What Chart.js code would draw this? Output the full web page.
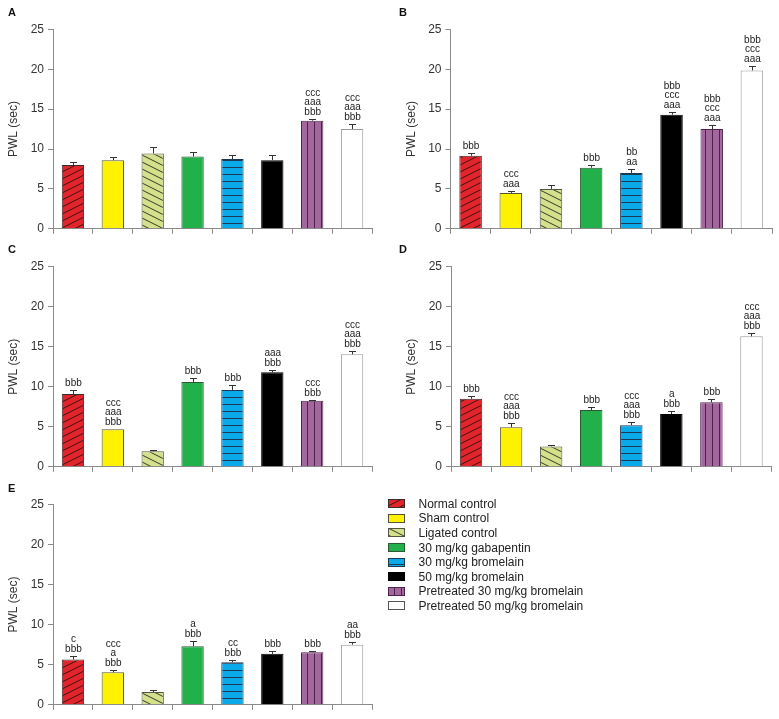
<!DOCTYPE html>
<html><head><meta charset="utf-8">
<script src="https://cdn.jsdelivr.net/npm/chart.js@4.4.1/dist/chart.umd.min.js"></script>
<style>
body{margin:0;background:#fff;width:779px;height:719px;overflow:hidden;position:relative;font-family:"Liberation Sans",Arial,sans-serif;}
.panel{position:absolute;}
.letter{position:absolute;font:bold 11px "Liberation Sans",Arial,sans-serif;line-height:11px;color:#111;}
#legend{position:absolute;left:388px;top:496.5px;}
.row{height:14.6px;display:flex;align-items:center;font-size:12px;color:#222;white-space:nowrap;}
.row canvas{margin-right:13.5px;display:block;}
</style></head><body>
<div id="root"></div>
<div id="legend"></div>
<script>
// ---- data ----
const groups = ['Normal control','Sham control','Ligated control','30 mg/kg gabapentin','30 mg/kg bromelain','50 mg/kg bromelain','Pretreated 30 mg/kg bromelain','Pretreated 50 mg/kg bromelain'];
const yTicks = [0,5,10,15,20,25];
const yTitle = 'PWL (sec)';
const panelNames = ['A','B','C','D','E'];

const meanA = [8.0, 8.6, 9.45, 9.05, 8.75, 8.6, 13.55, 12.5];
const semA  = [0.35, 0.45, 0.75, 0.6, 0.55, 0.7, 0.2, 0.6];
const sigA  = [[],[],[],[],[],[],['ccc','aaa','bbb'],['ccc','aaa','bbb']];

const meanB = [9.15, 4.5, 5.0, 7.65, 7.0, 14.3, 12.5, 19.85];
const semB  = [0.3, 0.25, 0.5, 0.3, 0.5, 0.3, 0.45, 0.5];
const sigB  = [['bbb'],['ccc','aaa'],[],['bbb'],['bb','aa'],['bbb','ccc','aaa'],['bbb','ccc','aaa'],['bbb','ccc','aaa']];

const meanC = [9.1, 4.7, 1.95, 10.6, 9.6, 11.8, 8.25, 14.05];
const semC  = [0.45, 0, 0.12, 0.5, 0.6, 0.33, 0.1, 0.4];
const sigC  = [['bbb'],['ccc','aaa','bbb'],[],['bbb'],['bbb'],['aaa','bbb'],['ccc','bbb'],['ccc','aaa','bbb']];

const meanD = [8.5, 4.95, 2.55, 7.1, 5.2, 6.6, 8.05, 16.3];
const semD  = [0.3, 0.5, 0.12, 0.4, 0.4, 0.4, 0.38, 0.42];
const sigD  = [['bbb'],['ccc','aaa','bbb'],[],['bbb'],['ccc','aaa','bbb'],['a','bbb'],['bbb'],['ccc','aaa','bbb']];

const meanE = [5.65, 4.05, 1.6, 7.3, 5.3, 6.35, 6.55, 7.5];
const semE  = [0.38, 0.3, 0.25, 0.7, 0.33, 0.37, 0.15, 0.37];
const sigE  = [['c','bbb'],['ccc','a','bbb'],[],['a','bbb'],['cc','bbb'],['bbb'],['bbb'],['aa','bbb']];

const panelData = [
  {mean:meanA, sem:semA, sig:sigA},
  {mean:meanB, sem:semB, sig:sigB},
  {mean:meanC, sem:semC, sig:sigC},
  {mean:meanD, sem:semD, sig:sigD},
  {mean:meanE, sem:semE, sig:sigE}
];

// ---- layout (plot rectangles) ----
const rects = [
  {l:53, t:29.3, r:372, b:232, lx:8, ly:7},
  {l:450.5, t:29.3, r:772, b:232, lx:399, ly:7},
  {l:53, t:266.7, r:372, b:469.3, lx:8, ly:244},
  {l:451, t:266.7, r:771.5, b:469.3, lx:399, ly:244},
  {l:53, t:504.3, r:372, b:707.7, lx:8, ly:482.5}
];

// ---- patterns ----
function tile(w,h,bg,draw){
  const c=document.createElement('canvas'); c.width=w; c.height=h;
  const g=c.getContext('2d'); g.fillStyle=bg; g.fillRect(0,0,w,h); draw(g,w,h); return c;
}
function diag(up,bg,fg){
  return tile(14,7,bg,(g,w,h)=>{
    g.strokeStyle=fg; g.lineWidth=1;
    for(const dx of [-w,0,w]) for(const dy of [-h,0,h]){
      g.beginPath();
      if(up){g.moveTo(dx,h+dy); g.lineTo(w+dx,dy);} else {g.moveTo(dx,dy); g.lineTo(w+dx,h+dy);}
      g.stroke();
    }
  });
}
const tiles = [
  diag(true,'#e3242b','#3a1416'),
  tile(4,4,'#fff200',()=>{}),
  diag(false,'#d4e08c','#3a3a2a'),
  tile(4,4,'#22b04b',()=>{}),
  tile(4,7,'#0aa9e8',(g,w,h)=>{g.fillStyle='#1d3a55';g.fillRect(0,6,w,1);}),
  tile(4,4,'#000000',()=>{}),
  tile(7,4,'#a3679e',(g,w,h)=>{g.fillStyle='#4d2449';g.fillRect(6,0,1,h);}),
  tile(4,4,'#ffffff',()=>{})
];
const borders = ['#3a2a2a','#555533','#555544','#2a5a35','#1d3a55','#000000','#4d2449','#9a9a9a'];

function fillFor(ctx2d){ return tiles.map(t=>ctx2d.createPattern(t,'repeat')); }

// ---- error bars + significance labels ----
function errPlugin(d){
  return {
    id:'errbars',
    afterDatasetsDraw(chart){
      const ctx=chart.ctx, y=chart.scales.y;
      const meta=chart.getDatasetMeta(0);
      ctx.save();
      meta.data.forEach((bar,i)=>{
        const m=d.mean[i], s=d.sem[i];
        const x=Math.round(bar.x);
        const y0=y.getPixelForValue(m), y1=Math.round(y.getPixelForValue(m+s))+0.5;
        if(s>0){
          ctx.strokeStyle='#333'; ctx.lineWidth=1;
          ctx.beginPath();
          ctx.moveTo(x+0.5,y0); ctx.lineTo(x+0.5,y1);
          ctx.moveTo(x-3,y1); ctx.lineTo(x+4,y1);
          ctx.stroke();
        }
        const lines=d.sig[i];
        ctx.fillStyle='#222'; ctx.font='10px "Liberation Sans", Arial, sans-serif';
        ctx.textAlign='center'; ctx.textBaseline='alphabetic';
        lines.forEach((t,k)=>ctx.fillText(t, bar.x+0.5, y1-5-(lines.length-1-k)*9.4));
      });
      ctx.restore();
    }
  };
}

const root=document.getElementById('root');
panelData.forEach((d,pi)=>{
  const R=rects[pi];
  const left=Math.round(R.l-53), top=Math.floor(R.t-29);
  const width=Math.ceil(R.r+6-left), height=Math.ceil(R.b+8-top);
  const yW=R.l-left, padTop=R.t-top, padRight=width-(R.r-left), padBottom=height-(R.b-top)-8;
  const div=document.createElement('div'); div.className='panel';
  div.style.cssText=`left:${left}px;top:${top}px;width:${width}px;height:${height}px;`;
  const cv=document.createElement('canvas'); div.appendChild(cv); root.appendChild(div);
  const lab=document.createElement('div'); lab.className='letter'; lab.textContent=panelNames[pi];
  lab.style.left=R.lx+'px'; lab.style.top=R.ly+'px'; document.body.appendChild(lab);
  const fills=fillFor(cv.getContext('2d'));
  new Chart(cv,{
    type:'bar',
    data:{labels:groups, datasets:[{data:d.mean, backgroundColor:fills, borderColor:borders, borderWidth:1,
      borderSkipped:'bottom', barPercentage:0.56, categoryPercentage:1}]},
    options:{
      responsive:true, maintainAspectRatio:false, animation:false, events:[],
      layout:{padding:{left:0, top:padTop, right:padRight, bottom:padBottom}},
      plugins:{legend:{display:false}, tooltip:{enabled:false}},
      scales:{
        x:{
          grid:{display:true, drawOnChartArea:false, drawTicks:true, tickLength:5, color:'#8a8a8a', offset:true},
          border:{display:true, color:'#8a8a8a', width:1},
          ticks:{display:false},
          afterFit(s){ s.height=8; }
        },
        y:{
          min:0, max:25,
          afterBuildTicks(s){ s.ticks=yTicks.map(v=>({value:v})); },
          grid:{display:true, drawOnChartArea:false, drawTicks:true, tickLength:5, color:'#8a8a8a'},
          border:{display:true, color:'#8a8a8a', width:1},
          ticks:{padding:4, color:'#333', font:{family:'"Liberation Sans", Arial, sans-serif', size:12}},
          title:{display:true, text:yTitle, color:'#333', padding:{top:6,bottom:0},
                 font:{family:'"Liberation Sans", Arial, sans-serif', size:12}},
          afterFit(s){ s.width=yW; }
        }
      }
    },
    plugins:[errPlugin(d)]
  });
});

// ---- legend ----
const leg=document.getElementById('legend');
groups.forEach((g,i)=>{
  const row=document.createElement('div'); row.className='row';
  const c=document.createElement('canvas'); c.width=17; c.height=9;
  const x=c.getContext('2d');
  x.fillStyle=x.createPattern(tiles[i],'repeat'); x.fillRect(0,0,17,9);
  x.strokeStyle=borders[i]==='#9a9a9a'?'#555':borders[i]; x.lineWidth=1; x.strokeRect(0.5,0.5,16,8);
  const sp=document.createElement('span'); sp.textContent=g;
  row.appendChild(c); row.appendChild(sp); leg.appendChild(row);
});
</script>
</body></html>
